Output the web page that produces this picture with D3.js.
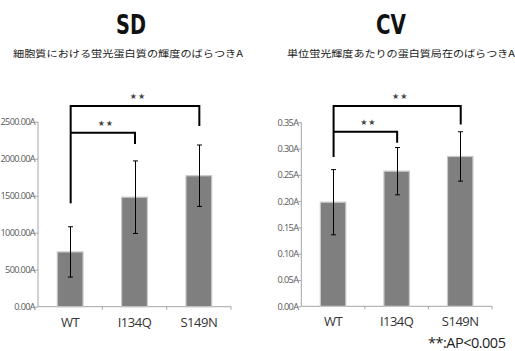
<!DOCTYPE html>
<html>
<head>
<meta charset="utf-8">
<script src="https://cdn.jsdelivr.net/npm/d3@7"></script>
<style>
  body { margin: 0; background: #fff; }
  svg { display: block; }
</style>
</head>
<body>
<div class="canvas"></div>
<script>
'use strict';

const categories = ['WT', 'I134Q', 'S149N'];

const sdMean = [740, 1480, 1770];
const sdErr = [340, 490, 415];
const sdTicks = [0, 500, 1000, 1500, 2000, 2500];

const cvMean = [0.198, 0.257, 0.285];
const cvErr = [0.062, 0.045, 0.047];
const cvTicks = [0, 0.05, 0.10, 0.15, 0.20, 0.25, 0.30, 0.35];

// significance brackets: [from, to, level, dropTo], in data units
const sdBrackets = [[0, 2, 2712, 2442], [0, 1, 2351, 2199]];
const sdBracketBase = 1397;
const cvBrackets = [[0, 2, 0.381, 0.346], [0, 1, 0.332, 0.311]];
const cvBracketBase = 0.284;

const svg = d3.select('.canvas')
    .append('svg')
    .attr('width', 515)
    .attr('height', 351);

const jp = '"Noto Sans CJK JP", sans-serif';
const sans = '"Open Sans", "Noto Sans", sans-serif';

const drawChart = (opts) => {
    const x = d3.scaleBand()
        .domain(categories)
        .range([opts.left, opts.right])
        .paddingInner(0.6)
        .paddingOuter(0.3);

    const y = d3.scaleLinear()
        .domain([0, d3.max(opts.ticks)])
        .range([opts.bottom, opts.top]);

    // title + subtitle
    svg.append('text')
        .attr('x', opts.titleX).attr('y', 34)
        .attr('text-anchor', 'middle')
        .style('font-family', '"DejaVu Sans Condensed", "DejaVu Sans", sans-serif')
        .style('font-weight', 'bold')
        .style('font-stretch', 'condensed')
        .style('font-size', '26px')
        .attr('textLength', 30)
        .attr('lengthAdjust', 'spacingAndGlyphs')
        .attr('fill', '#111')
        .text(opts.title);

    svg.append('text')
        .attr('x', opts.subX).attr('y', 57)
        .attr('text-anchor', 'middle')
        .style('font-family', jp)
        .style('font-size', '9.5px')
        .attr('textLength', opts.subLen)
        .attr('lengthAdjust', 'spacingAndGlyphs')
        .attr('fill', '#222')
        .text(opts.subtitle);

    // y axis
    const yAxis = svg.append('g')
        .attr('transform', `translate(${opts.left},0)`)
        .call(d3.axisLeft(y).tickValues(opts.ticks).tickSize(3).tickFormat(opts.fmt));
    yAxis.select('.domain').attr('stroke', '#a6a6a6').attr('d', `M0,${opts.bottom}V${opts.top}`);
    yAxis.selectAll('.tick line').attr('stroke', '#a6a6a6');
    yAxis.selectAll('.tick text')
        .attr('x', -3)
        .attr('fill', '#595959')
        .style('font-family', sans)
        .style('font-size', '9.2px')
        .style('letter-spacing', '-0.65px');

    // x axis
    const xAxis = svg.append('g').attr('transform', `translate(0,${opts.bottom})`);
    xAxis.append('line')
        .attr('x1', opts.left).attr('x2', opts.right)
        .attr('stroke', '#a6a6a6');
    const bounds = d3.range(1, categories.length + 1).map(i => opts.left + i * x.step());
    xAxis.selectAll('.xt').data(bounds).enter().append('line')
        .attr('x1', d => d).attr('x2', d => d)
        .attr('y1', 0).attr('y2', 3)
        .attr('stroke', '#a6a6a6');
    xAxis.selectAll('.xl').data(categories).enter().append('text')
        .attr('x', d => x(d) + x.bandwidth() / 2)
        .attr('y', 20)
        .attr('text-anchor', 'middle')
        .attr('fill', '#333')
        .style('font-family', sans)
        .style('font-size', '13px')
        .style('letter-spacing', '-0.5px')
        .text(d => d);

    // bars
    svg.append('g').selectAll('rect').data(opts.mean).enter().append('rect')
        .attr('x', (d, i) => x(categories[i]))
        .attr('width', x.bandwidth())
        .attr('y', d => y(d))
        .attr('height', d => opts.bottom - y(d))
        .attr('fill', '#7f7f7f')
        .attr('stroke', '#c8c8c8')
        .attr('stroke-width', 1.2);

    // error bars
    const eb = svg.append('g').attr('stroke', '#000').attr('stroke-width', 1);
    opts.mean.forEach((m, i) => {
        const cx = Math.round(x(categories[i]) + x.bandwidth() / 2) + 0.5;
        const lo = y(m - opts.err[i]);
        const hi = y(m + opts.err[i]);
        eb.append('line').attr('x1', cx).attr('x2', cx).attr('y1', lo).attr('y2', hi);
        eb.append('line').attr('x1', cx - 2.5).attr('x2', cx + 2.5).attr('y1', lo).attr('y2', lo);
        eb.append('line').attr('x1', cx - 2.5).attr('x2', cx + 2.5).attr('y1', hi).attr('y2', hi);
    });

    // significance brackets
    const bg = svg.append('g');
    const cxOf = i => x(categories[i]) + x.bandwidth() / 2 + 0.5;
    const topLevel = d3.max(opts.brackets, b => b[2]);
    bg.append('line')
        .attr('x1', cxOf(0)).attr('x2', cxOf(0))
        .attr('y1', y(opts.base)).attr('y2', y(topLevel) - 1)
        .attr('stroke', '#000').attr('stroke-width', 2);
    opts.brackets.forEach(b => {
        bg.append('path')
            .attr('d', `M${cxOf(b[0])},${y(b[2])}H${cxOf(b[1])}V${y(b[3])}`)
            .attr('fill', 'none')
            .attr('stroke', '#000')
            .attr('stroke-width', 2);
        bg.append('text')
            .attr('x', (cxOf(b[0]) + cxOf(b[1])) / 2 + 3)
            .attr('y', y(b[2]) - 7)
            .attr('text-anchor', 'middle')
            .attr('fill', '#444')
            .style('font-family', '"DejaVu Sans", sans-serif')
            .style('font-size', '8px')
            .style('letter-spacing', '1px')
            .text('★★');
    });
};

drawChart({
    title: 'SD', titleX: 131,
    subtitle: '細胞質における蛍光蛋白質の輝度のばらつきA', subX: 128, subLen: 230,
    left: 38, right: 231, top: 121.7, bottom: 306.7,
    ticks: sdTicks, fmt: d => d3.format('.2f')(d) + 'A',
    mean: sdMean, err: sdErr,
    brackets: sdBrackets, base: sdBracketBase
});

drawChart({
    title: 'CV', titleX: 391,
    subtitle: '単位蛍光輝度あたりの蛋白質局在のばらつきA', subX: 401, subLen: 228,
    left: 301.3, right: 492, top: 122.3, bottom: 306.3,
    ticks: cvTicks, fmt: d => d3.format('.2f')(d) + 'A',
    mean: cvMean, err: cvErr,
    brackets: cvBrackets, base: cvBracketBase
});

// footnote
svg.append('text')
    .attr('x', 428).attr('y', 348)
    .attr('fill', '#222')
    .style('font-family', sans)
    .style('font-size', '14.5px')
    .style('letter-spacing', '-0.5px')
    .text('**:AP<0.005');
</script>
</body>
</html>
